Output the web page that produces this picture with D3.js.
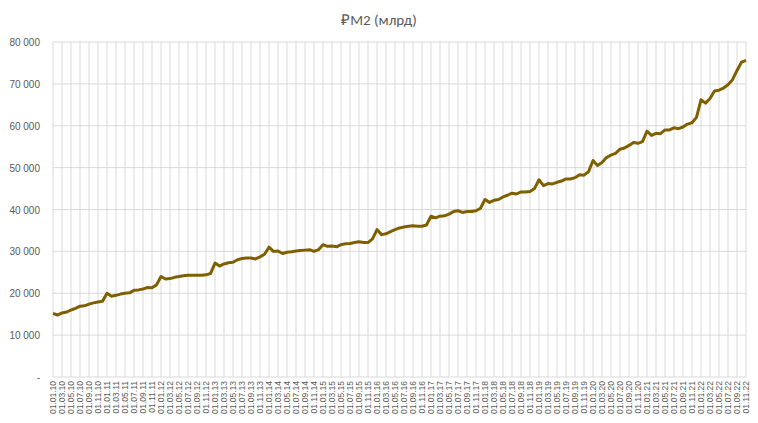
<html>
<head>
  <script src="https://d3js.org/d3.v7.min.js"></script>
</head>
<body style="margin:0">
<svg width="758" height="423"></svg>
<script>
  // monthly values, Jan 2010 .. Nov 2022
  var years = ["10","11","12","13","14","15","16","17","18","19","20","21","22"];
  var m2 = [
    15200,14800,15300,15500,16000,16400,16900,17000,17400,17700,17900,18100,
    20000,19300,19500,19800,20000,20100,20700,20800,21000,21400,21300,22000,
    24000,23400,23500,23800,24000,24200,24300,24300,24300,24300,24400,24700,
    27200,26500,27000,27300,27400,28000,28300,28400,28400,28200,28700,29300,
    31000,30000,30100,29500,29800,29900,30100,30200,30300,30400,30000,30400,
    31600,31200,31300,31100,31600,31800,31900,32100,32300,32100,32100,33000,
    35200,34000,34200,34700,35200,35600,35800,36000,36100,36000,36000,36300,
    38400,38000,38400,38500,38900,39500,39700,39300,39500,39500,39700,40300,
    42400,41700,42200,42400,43000,43400,43900,43700,44200,44200,44300,45000,
    47100,45700,46200,46100,46500,46800,47300,47300,47600,48300,48200,49000,
    51700,50500,51200,52400,53000,53400,54400,54700,55300,56000,55800,56200,
    58700,57700,58200,58100,59000,59000,59500,59300,59700,60400,60700,62000,
    66200,65400,66500,68300,68500,69000,69800,71000,73200,75200,75600
  ];
  var yTicks = [0,10000,20000,30000,40000,50000,60000,70000,80000];

  var dates = m2.map(function(d, i) {
    var mm = (i % 12) + 1;
    return "01." + (mm < 10 ? "0" + mm : mm) + "." + years[Math.floor(i / 12)];
  });

  var svg = d3.select("svg"),
      pLeft = 53, pRight = 746, pTop = 42, pBottom = 377;

  var x = d3.scalePoint().domain(dates).range([pLeft, pRight]);
  var y = d3.scaleLinear().domain([0, 80000]).range([pBottom, pTop]);

  svg.append("text").attr("x", 379).attr("y", 25).attr("text-anchor", "middle")
     .attr("font-family", "Calibri, Carlito, 'Liberation Sans', sans-serif")
     .attr("font-size", 15).attr("fill", "#595959").text("₽M2 (млрд)");

  var labelDates = dates.filter(function(d, i) { return i % 2 == 0; });

  // gridlines
  svg.append("g").selectAll("line").data(yTicks).enter().append("line")
     .attr("x1", pLeft).attr("x2", pRight)
     .attr("y1", function(d) { return y(d); }).attr("y2", function(d) { return y(d); })
     .attr("stroke", "#d9d9d9");
  svg.append("g").selectAll("line").data(labelDates).enter().append("line")
     .attr("x1", function(d) { return x(d); }).attr("x2", function(d) { return x(d); })
     .attr("y1", pTop).attr("y2", pBottom)
     .attr("stroke", "#d9d9d9");

  // y labels
  svg.append("g").selectAll("text").data(yTicks).enter().append("text")
     .attr("x", 40).attr("y", function(d) { return y(d) + 4; })
     .attr("text-anchor", "end").attr("font-family", "'Liberation Sans', Arial, sans-serif")
     .attr("font-size", 10).attr("fill", "#595959")
     .text(function(d) { return d == 0 ? "-" : d3.format(",")(d).replace(",", " "); });

  // x labels
  svg.append("g").selectAll("text").data(labelDates).enter().append("text")
     .attr("transform", function(d) { return "translate(" + (x(d) + 3) + "," + (pBottom + 4) + ") rotate(-90)"; })
     .attr("text-anchor", "end").attr("font-family", "'Liberation Sans', Arial, sans-serif")
     .attr("font-size", 8.5).attr("fill", "#595959")
     .text(function(d) { return d; });

  var line = d3.line()
     .x(function(d, i) { return x(dates[i]); })
     .y(function(d) { return y(d); });

  svg.append("path").datum(m2)
     .attr("d", line).attr("fill", "none")
     .attr("stroke", "#7f6000").attr("stroke-width", 3)
     .attr("stroke-linejoin", "round");
</script>
</body>
</html>
